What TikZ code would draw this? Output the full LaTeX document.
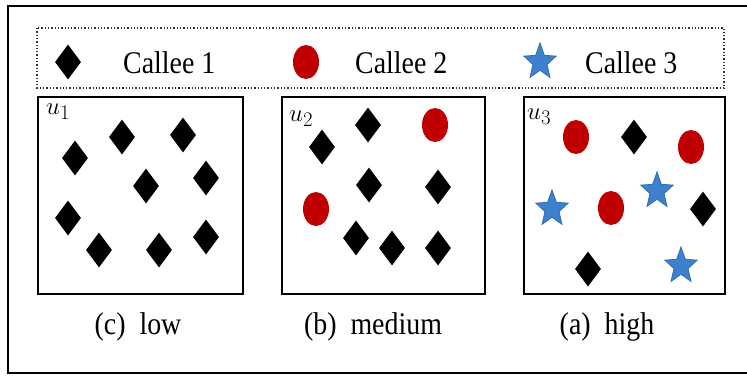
\documentclass[tikz,border=0pt]{standalone}
\usepackage{fontspec}
\setmainfont{Liberation Serif}
\usetikzlibrary{shapes.geometric}
\definecolor{calleered}{HTML}{C00000}
\definecolor{calleeblue}{HTML}{3F80CC}
\definecolor{calleeblueline}{HTML}{2E6FB0}
\tikzset{
  frame/.style={draw=black, line width=2.4pt},
  panel/.style={draw=black, line width=2.2pt},
  legendbox/.style={draw=black!80, line width=1.3pt, dotted},
  dia/.style={diamond, fill=black, inner sep=0pt, minimum width=26pt, minimum height=35pt},
  dot/.style={ellipse, fill=calleered, inner sep=0pt, minimum width=26pt, minimum height=34pt},
  starmark/.style={star, star points=5, star point ratio=2.3, fill=calleeblue, draw=calleeblueline,
    line width=0.8pt, inner sep=0pt, minimum size=34pt, yscale=1.12},
  legendtext/.style={font=\fontsize{30}{30}\selectfont, xscale=0.93, yscale=1.05, anchor=west, inner sep=0pt},
  caption/.style={font=\fontsize{30}{30}\selectfont, xscale=0.93, yscale=1.05, inner sep=0pt},
  ulabel/.style={font=\fontsize{28}{28}\selectfont, inner sep=0pt, anchor=west}
}
\begin{document}
\begin{tikzpicture}[x=1pt, y=-1pt]
  \useasboundingbox (0,0) rectangle (747,376);
  \begin{scope}
    \clip (0,0) rectangle (747,376);
    \draw[frame] (8,6) rectangle (770,373);
  \end{scope}

  % legend
  \draw[legendbox] (37,28) rectangle (724,88);
  \node[dia] (k1) at (68,62) {};
  \node[legendtext] (t1) at (123,63) {Callee 1};
  \node[dot] (k2) at (306,62) {};
  \node[legendtext] (t2) at (355,63) {Callee 2};
  \node[starmark] (k3) at (540,62) {};
  \node[legendtext] (t3) at (585,63) {Callee 3};

  % three panels
  \draw[panel] (38,97) rectangle (243,294);
  \draw[panel] (282,97) rectangle (485,294);
  \draw[panel] (524,97) rectangle (725,294);

  \node[ulabel] (u1) at (46,112) {$u_1$};
  \node[ulabel] (u2) at (289,119) {$u_2$};
  \node[ulabel] (u3) at (527,117) {$u_3$};

  % low
  \node[dia] (a1) at (75,158) {};
  \node[dia] (a2) at (122,137) {};
  \node[dia] (a3) at (183,135) {};
  \node[dia] (a4) at (146,186) {};
  \node[dia] (a5) at (206,178) {};
  \node[dia] (a6) at (68,218) {};
  \node[dia] (a7) at (99,250) {};
  \node[dia] (a8) at (159,250) {};
  \node[dia] (a9) at (206,237) {};

  % medium
  \node[dia] (b1) at (322,147) {};
  \node[dia] (b2) at (368,125) {};
  \node[dia] (b3) at (369,185) {};
  \node[dia] (b4) at (438,187) {};
  \node[dia] (b5) at (356,238) {};
  \node[dia] (b6) at (392,248) {};
  \node[dia] (b7) at (438,248) {};
  \node[dot] (b8) at (435,125) {};
  \node[dot] (b9) at (316,209) {};

  % high
  \node[dot] (c1) at (576,137) {};
  \node[dot] (c2) at (691,147) {};
  \node[dot] (c3) at (611,208) {};
  \node[dia] (c4) at (634,137) {};
  \node[dia] (c5) at (703,209) {};
  \node[dia] (c6) at (588,269) {};
  \node[starmark] (c7) at (552,209) {};
  \node[starmark] (c8) at (657,191) {};
  \node[starmark] (c9) at (681,266) {};

  % captions
  \node[caption] (cap1) at (138,327) {(c)\ \ low};
  \node[caption] (cap2) at (373,327) {(b)\ \ medium};
  \node[caption] (cap3) at (607,327) {(a)\ \ high};
\end{tikzpicture}
\end{document}
